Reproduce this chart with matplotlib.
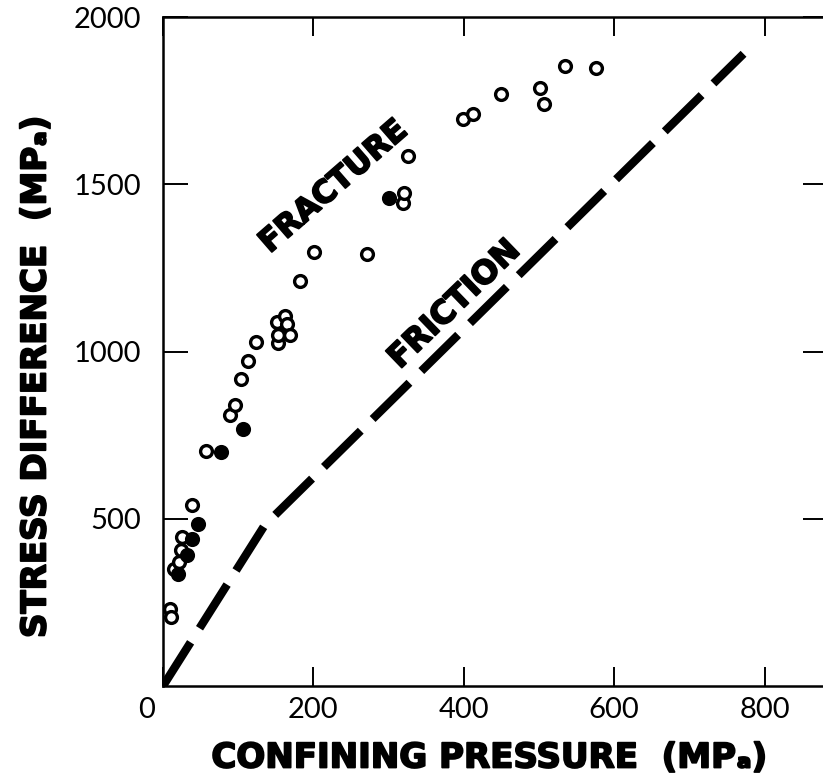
import numpy as np
import matplotlib.pyplot as plt
import matplotlib.patheffects as pe
from matplotlib.transforms import ScaledTranslation

# open symbols
open_p = [9, 10, 15, 21, 24, 25, 39, 57, 89, 96, 104, 113, 124, 153, 153, 152,
          162, 165, 169, 182, 201, 271, 319, 321, 326, 399, 412, 450, 501, 507,
          535, 576]
open_s = [230, 206, 350, 371, 407, 445, 541, 703, 810, 840, 918, 972, 1029, 1026,
          1048, 1089, 1106, 1081, 1050, 1212, 1298, 1290, 1445, 1473, 1584, 1694,
          1709, 1769, 1787, 1739, 1853, 1849]

# filled symbols
solid_p = [20, 32, 38, 46, 77, 106, 301]
solid_s = [335, 392, 439, 484, 700, 767, 1460]

# friction envelope
fric_p = [0, 135, 772]
fric_s = [0, 480, 1890]

W, H = 823, 784
fig = plt.figure(figsize=(W / 100, H / 100), dpi=100)
ax = fig.add_axes([163 / W, 98 / H, 665 / W, 669 / H])

line, = ax.plot(fric_p, fric_s, color='black', lw=6.0, solid_capstyle='butt',
                dash_capstyle='butt')
line.set_dashes([6.2, 2.0])

ax.plot(open_p, open_s, 'o', ms=8.5, mfc='white', mec='black', mew=2.4, clip_on=False)
ax.plot(solid_p, solid_s, 'o', ms=8.5, mfc='black', mec='black', mew=2.4, clip_on=False)

ax.set_xlim(0, 665 / 0.752)
ax.set_ylim(0, 2000)

ax.set_xticks([0, 200, 400, 600, 800])
ax.set_yticks([500, 1000, 1500, 2000])
ax.tick_params(direction='in', top=True, right=True, width=1.4, labelsize=21,
               colors='black')
ax.tick_params(axis='x', length=14, pad=8)
ax.tick_params(axis='y', length=18, pad=16)
for lab in ax.get_xticklabels() + ax.get_yticklabels():
    lab.set_family('Lato')

# the 0 label sits a little left of the corner
zero = ax.get_xticklabels()[0]
zero.set_transform(zero.get_transform() + ScaledTranslation(-16 / 100, 0, fig.dpi_scale_trans))

for sp in ax.spines.values():
    sp.set_linewidth(1.8)

heavy = dict(fontweight='bold', family='DejaVu Sans',
             path_effects=[pe.withStroke(linewidth=1.3, foreground='black')])
ax.text(227, 1492, 'FRACTURE', rotation=41, ha='center', va='center',
        fontsize=22.5, **heavy)
ax.text(388, 1140, 'FRICTION', rotation=44, ha='center', va='center',
        fontsize=23, **heavy)

fig.text(489 / W, 1 - 758 / H, 'CONFINING PRESSURE  (MP\u2090)', ha='center',
         va='center', fontsize=24.5, **heavy)
fig.text(36 / W, 1 - 377 / H, 'STRESS DIFFERENCE  (MP\u2090)', ha='center',
         va='center', rotation=90, fontsize=24.5, **heavy)

fig.savefig('out.png', dpi=100)
